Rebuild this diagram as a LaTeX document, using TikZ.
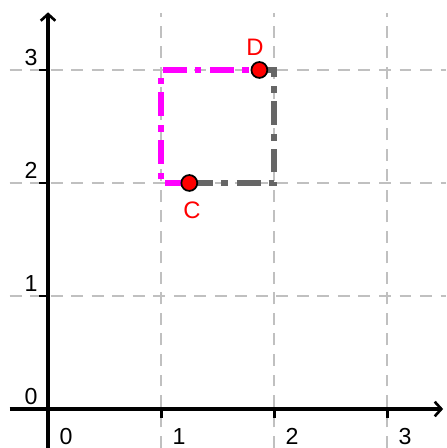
\documentclass[tikz,border=0pt]{standalone}
\usepackage{fontspec}
\setmainfont{Liberation Sans}
\usetikzlibrary{arrows.meta}
\definecolor{gridgray}{HTML}{C0C0C0}
\definecolor{edgegray}{HTML}{666666}
\definecolor{magline}{HTML}{FF00FF}
\definecolor{ptred}{HTML}{FF0000}

\begin{document}
\begin{tikzpicture}[
  x=3cm, y=3cm,
  gridline/.style={draw=gridgray, line width=1.8pt, dash pattern=on 9pt off 6.5pt},
  axis/.style={line width=2.7pt, -{Straight Barb[length=5pt, width=11pt, line width=2pt]}},
  tickmark/.style={line width=2.2pt},
  sideA/.style={draw=magline, line width=4.2pt, dash pattern=on 18pt off 6pt on 5pt off 7pt},
  sideB/.style={draw=edgegray, line width=4.2pt, dash pattern=on 18pt off 6pt on 5pt off 7pt},
  pt/.style={circle, draw=black, line width=1.3pt, fill=ptred, inner sep=0pt, minimum size=12pt},
  numlbl/.style={font=\fontsize{17.5}{20}\selectfont},
  ptlbl/.style={font=\fontsize{18}{20}\selectfont, text=ptred}
]
\useasboundingbox (-0.425,-0.345) rectangle (3.522,3.619);

\foreach \i in {1,2,3} {
  \draw[gridline] (\i,-0.345) -- (\i,3.5);
  \draw[gridline] (-0.34,\i) -- (3.522,\i);
}

\draw[axis] (-0.34,0) -- (3.496,0);
\draw[axis] (0,-0.345) -- (0,3.51);
\foreach \i in {1,2,3} {
  \draw[tickmark] (\i,0) -- (\i,-0.08);
  \draw[tickmark] (0,\i) -- (-0.08,\i);
}
\foreach \i in {0,...,3} {
  \node[numlbl] (xl\i) at (\i+0.16,-0.24) {\i};
  \node[numlbl] (yl\i) at (-0.15,\i+0.11) {\i};
}

\coordinate (C) at (1.25,2);
\coordinate (D) at (1.87,3);
\coordinate (BL) at (1,2);
\coordinate (TL) at (1,3);
\coordinate (BR) at (2,2);
\coordinate (TR) at (2,3);

\draw[sideA] (C) -- (BL) -- (TL) -- (D);
\draw[sideB] (C) -- (BR) -- (TR) -- (D);

\node[pt] (pC) at (C) {};
\node[pt] (pD) at (D) {};
\node[ptlbl] (lC) at (1.274,1.761) {C};
\node[ptlbl] (lD) at (1.832,3.204) {D};
\end{tikzpicture}
\end{document}
